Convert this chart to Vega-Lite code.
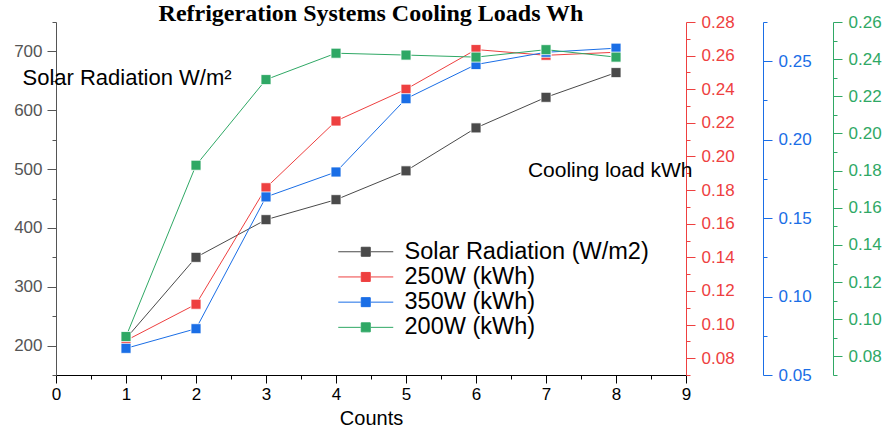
{
  "$schema": "https://vega.github.io/schema/vega-lite/v6.json",
  "autosize": "none",
  "width": 630,
  "height": 353,
  "padding": {"left": 56, "top": 22, "right": 199, "bottom": 55},
  "background": "white",
  "config": {"font": "Liberation Sans", "view": {"stroke": null}},
  "title": {
    "text": "Refrigeration Systems Cooling Loads Wh",
    "font": "Liberation Serif",
    "fontWeight": "bold",
    "fontSize": 24,
    "color": "black",
    "anchor": "middle",
    "frame": "group",
    "baseline": "alphabetic",
    "offset": -32
  },
  "data": {
    "values": [
      {"count": 1, "solar": 212, "w250": 0.0905, "w350": 0.067, "w200": 0.0907},
      {"count": 2, "solar": 350, "w250": 0.1121, "w350": 0.0795, "w200": 0.1829},
      {"count": 3, "solar": 414, "w250": 0.1814, "w350": 0.1635, "w200": 0.229},
      {"count": 4, "solar": 448, "w250": 0.2211, "w350": 0.1794, "w200": 0.2432},
      {"count": 5, "solar": 497, "w250": 0.240, "w350": 0.2261, "w200": 0.2422},
      {"count": 6, "solar": 570, "w250": 0.2636, "w350": 0.2479, "w200": 0.2411},
      {"count": 7, "solar": 622, "w250": 0.2602, "w350": 0.2557, "w200": 0.2451},
      {"count": 8, "solar": 664, "w250": 0.262, "w350": 0.2583, "w200": 0.2411}
    ]
  },
  "encoding": {
    "x": {
      "field": "count",
      "type": "quantitative",
      "scale": {"domain": [0, 9], "nice": false, "zero": false},
      "axis": {
        "values": [0, 0.5, 1, 1.5, 2, 2.5, 3, 3.5, 4, 4.5, 5, 5.5, 6, 6.5, 7, 7.5, 8, 8.5, 9],
        "labelExpr": "datum.value % 1 === 0 ? format(datum.value, 'd') : ''",
        "tickSize": {"condition": {"test": "datum.value % 1 === 0", "value": 8}, "value": 4},
        "grid": false,
        "domainColor": "black",
        "tickColor": "black",
        "labelColor": "black",
        "labelFontSize": 17,
        "labelPadding": 3,
        "labelFlush": false,
        "labelOverlap": false,
        "title": "Counts",
        "titleFontSize": 20,
        "titleFontWeight": "normal",
        "titleColor": "black",
        "titlePadding": 6
      }
    }
  },
  "layer": [
    {
      "mark": {"type": "line", "strokeWidth": 1, "point": {"shape": "square", "filled": true, "size": 100, "stroke": "white", "strokeWidth": 0.8, "opacity": 1}},
      "encoding": {
        "y": {
          "field": "solar",
          "type": "quantitative",
          "scale": {"domain": [150, 750], "nice": false, "zero": false},
          "axis": {
            "orient": "left",
            "values": [150, 200, 250, 300, 350, 400, 450, 500, 550, 600, 650, 700, 750],
            "labelExpr": "datum.value % 100 === 0 ? datum.label : ''",
            "tickSize": {"condition": {"test": "datum.value % 100 === 0", "value": 9}, "value": 4},
            "grid": false,
            "domainColor": "#555555",
            "tickColor": "#555555",
            "labelColor": "#555555",
            "labelFontSize": 17,
            "labelPadding": 5,
            "labelOverlap": false,
            "labelFlush": false,
            "title": "Solar Radiation W/m²",
            "titleX": -34,
            "titleY": 55,
            "titleAngle": 0,
            "titleAlign": "left",
            "titleBaseline": "middle",
            "titleFontSize": 22,
            "titleFontWeight": "normal",
            "titleColor": "black"
          }
        },
        "color": {
          "datum": "Solar Radiation (W/m2)",
          "type": "nominal",
          "scale": {
            "domain": ["Solar Radiation (W/m2)", "250W (kWh)", "350W (kWh)", "200W (kWh)"],
            "range": ["#4a4a4a", "#ee4040", "#1a6ee6", "#2fa865"]
          },
          "legend": {
            "orient": "none",
            "legendX": 298,
            "legendY": 218,
            "title": null,
            "padding": 0,
            "symbolType": "M-2.75,0H-0.5M0.5,0H2.75M-0.45,-0.45H0.45V0.45H-0.45Z",
            "symbolSize": 400,
            "symbolStrokeWidth": 1,
            "labelFontSize": 23.5,
            "labelColor": "black",
            "labelLimit": 0,
            "labelOffset": 27,
            "rowPadding": 0.2,
            "encode": {
              "symbols": {
                "update": {
                  "stroke": {"scale": "color", "field": "value"},
                  "fill": {"scale": "color", "field": "value"},
                  "strokeWidth": {"value": 1},
                  "opacity": {"value": 1}
                }
              }
            }
          }
        }
      }
    },
    {
      "mark": {"type": "line", "strokeWidth": 1, "point": {"shape": "square", "filled": true, "size": 100, "stroke": "white", "strokeWidth": 0.8, "opacity": 1}},
      "encoding": {
        "y": {
          "field": "w250",
          "type": "quantitative",
          "scale": {"domain": [0.07, 0.28], "nice": false, "zero": false},
          "axis": {
            "orient": "right",
            "offset": 0,
            "values": [0.07, 0.08, 0.09, 0.1, 0.11, 0.12, 0.13, 0.14, 0.15, 0.16, 0.17, 0.18, 0.19, 0.2, 0.21, 0.22, 0.23, 0.24, 0.25, 0.26, 0.27, 0.28],
            "labelExpr": "round(datum.value * 100) % 2 === 0 ? format(datum.value, '.2f') : ''",
            "tickSize": {"condition": {"test": "round(datum.value * 100) % 2 === 0", "value": 9}, "value": 4},
            "grid": false,
            "domainColor": "#ee4040",
            "tickColor": "#ee4040",
            "labelColor": "#ee4040",
            "labelFontSize": 17,
            "labelPadding": 6,
            "labelOverlap": false,
            "labelFlush": false,
            "title": "Cooling load kWh",
            "titleX": 6,
            "titleY": 148,
            "titleAngle": 0,
            "titleAlign": "right",
            "titleBaseline": "middle",
            "titleFontSize": 21,
            "titleFontWeight": "normal",
            "titleColor": "black"
          }
        },
        "color": {"datum": "250W (kWh)", "type": "nominal"}
      }
    },
    {
      "mark": {"type": "line", "strokeWidth": 1, "point": {"shape": "square", "filled": true, "size": 100, "stroke": "white", "strokeWidth": 0.8, "opacity": 1}},
      "encoding": {
        "y": {
          "field": "w350",
          "type": "quantitative",
          "scale": {"domain": [0.05, 0.275], "nice": false, "zero": false},
          "axis": {
            "orient": "right",
            "offset": 77,
            "values": [0.05, 0.075, 0.1, 0.125, 0.15, 0.175, 0.2, 0.225, 0.25, 0.275],
            "labelExpr": "round(datum.value * 1000) % 50 === 0 ? format(datum.value, '.2f') : ''",
            "tickSize": {"condition": {"test": "round(datum.value * 1000) % 50 === 0", "value": 9}, "value": 4},
            "grid": false,
            "domainColor": "#1a6ee6",
            "tickColor": "#1a6ee6",
            "labelColor": "#1a6ee6",
            "labelFontSize": 17,
            "labelPadding": 6,
            "labelOverlap": false,
            "labelFlush": false,
            "title": null
          }
        },
        "color": {"datum": "350W (kWh)", "type": "nominal"}
      }
    },
    {
      "mark": {"type": "line", "strokeWidth": 1, "point": {"shape": "square", "filled": true, "size": 100, "stroke": "white", "strokeWidth": 0.8, "opacity": 1}},
      "encoding": {
        "y": {
          "field": "w200",
          "type": "quantitative",
          "scale": {"domain": [0.07, 0.26], "nice": false, "zero": false},
          "axis": {
            "orient": "right",
            "offset": 147,
            "values": [0.07, 0.08, 0.09, 0.1, 0.11, 0.12, 0.13, 0.14, 0.15, 0.16, 0.17, 0.18, 0.19, 0.2, 0.21, 0.22, 0.23, 0.24, 0.25, 0.26],
            "labelExpr": "round(datum.value * 100) % 2 === 0 ? format(datum.value, '.2f') : ''",
            "tickSize": {"condition": {"test": "round(datum.value * 100) % 2 === 0", "value": 9}, "value": 4},
            "grid": false,
            "domainColor": "#2fa865",
            "tickColor": "#2fa865",
            "labelColor": "#2fa865",
            "labelFontSize": 17,
            "labelPadding": 6,
            "labelOverlap": false,
            "labelFlush": false,
            "title": null
          }
        },
        "color": {"datum": "200W (kWh)", "type": "nominal"}
      }
    }
  ],
  "resolve": {"scale": {"y": "independent"}}
}
